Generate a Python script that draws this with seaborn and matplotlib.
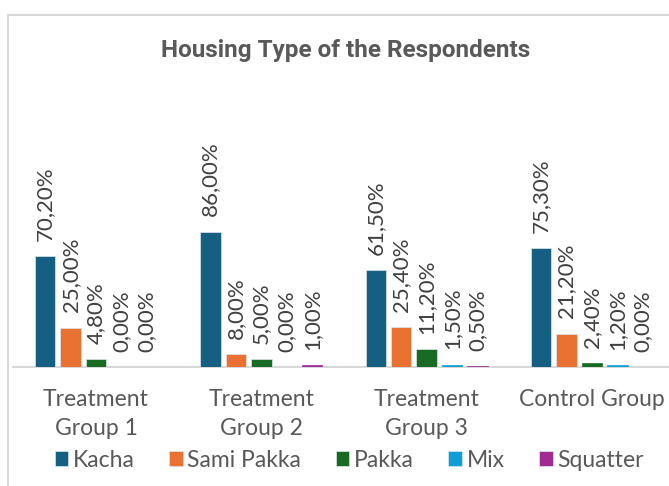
import matplotlib
matplotlib.use("Agg")
import matplotlib.pyplot as plt
from matplotlib.patches import Rectangle
import pandas as pd
import seaborn as sns

groups = ["Treatment\nGroup 1", "Treatment\nGroup 2", "Treatment\nGroup 3", "Control Group"]
housing_types = ["Kacha", "Sami Pakka", "Pakka", "Mix", "Squatter"]
kacha = [70.2, 86.0, 61.5, 75.3]
sami_pakka = [25.0, 8.0, 25.4, 21.2]
pakka = [4.8, 5.0, 11.2, 2.4]
mix = [0.0, 0.0, 1.5, 1.2]
squatter = [0.0, 1.0, 0.5, 0.0]
colors = ["#156082", "#E97132", "#196B24", "#0F9ED5", "#A02B93"]

series = [kacha, sami_pakka, pakka, mix, squatter]
rows = []
for name, vals in zip(housing_types, series):
    for g, v in zip(groups, vals):
        rows.append({"group": g, "type": name, "value": v})
df = pd.DataFrame(rows)

sns.set_theme(style="white")
plt.rcParams["font.family"] = ["Lato", "DejaVu Sans"]

fig = plt.figure(figsize=(6.69, 4.86), dpi=100)
ax = fig.add_axes([13.4 / 669, 119 / 486, 661.2 / 669, 157.5 / 486])

sns.barplot(
    data=df, x="group", y="value", hue="type", order=groups,
    hue_order=housing_types, palette=colors, saturation=1,
    width=0.77, gap=0.2, edgecolor="#DDE6EC", linewidth=0.5, ax=ax,
)

for cont in ax.containers:
    for b in cont:
        b.set_zorder(3)
        if b.get_height() < 3:
            b.set_edgecolor(b.get_facecolor())
            b.set_linewidth(0.5)
    labels = [f"{b.get_height():.2f}%".replace(".", ",") for b in cont]
    ax.bar_label(cont, labels=labels, rotation=90, padding=11,
                 fontsize=16, color="#404040")

ax.set_xlim(-0.5, 3.5)
ax.set_ylim(0, 100)
ax.set_xlabel("")
ax.set_ylabel("")
ax.set_yticks([])
for s in ["top", "left", "right"]:
    ax.spines[s].set_visible(False)
ax.spines["bottom"].set_color("#D9D9D9")
ax.spines["bottom"].set_linewidth(1.5)
ax.spines["bottom"].set_zorder(1)
ax.tick_params(axis="x", length=0, pad=16, labelsize=16.5, labelcolor="#595959")
for t in ax.get_xticklabels():
    t.set_linespacing(1.45)

handles, labs = ax.get_legend_handles_labels()
ax.get_legend().remove()
fig.legend(handles, labs, loc="center", bbox_to_anchor=(0.522, 0.053),
           ncol=5, frameon=False, fontsize=16.5, labelcolor="#595959",
           handlelength=0.6, handleheight=0.6, handletextpad=0.2,
           columnspacing=1.5, borderaxespad=0)

fig.text(0.516, 1 - 50 / 486, "Housing Type of the Respondents",
         ha="center", va="center", fontsize=17.5, fontweight="bold",
         color="#595959", family=["Liberation Sans Narrow", "Roboto", "DejaVu Sans"])

fig.patches.append(Rectangle((8 / 669, -0.1), 1.2, 1 - 15 / 486 + 0.1,
                             transform=fig.transFigure, fill=False,
                             edgecolor="#D9D9D9", linewidth=1.5))

fig.savefig("out.png", dpi=100)
